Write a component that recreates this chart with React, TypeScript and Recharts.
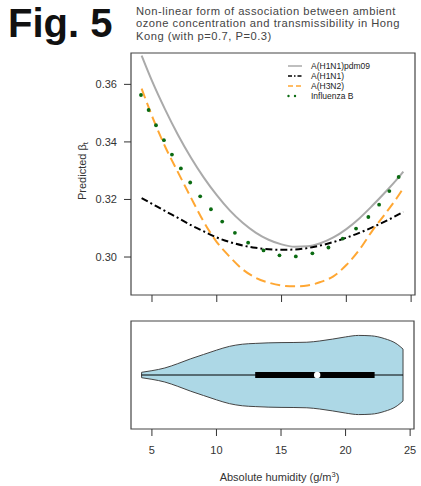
import {
  ComposedChart,
  Line,
  Scatter,
  Area,
  XAxis,
  YAxis,
  ReferenceArea,
  Legend,
} from "recharts";

// humidity grid used for the three fitted curves (g/m3)
const humidityGrid = [4.2, 5, 6, 7, 8, 9, 10, 11, 12, 13, 14, 15, 16, 17, 18, 19, 20, 21, 22, 23, 24, 24.4];
const pdm09Values = [0.37, 0.3612, 0.3514, 0.3425, 0.3346, 0.3276, 0.3215, 0.3162, 0.3119, 0.3085, 0.306, 0.3044, 0.3036, 0.3037, 0.3048, 0.3068, 0.3097, 0.3134, 0.3178, 0.3225, 0.3275, 0.3297];
const h1n1Values = [0.3205, 0.3185, 0.316, 0.3136, 0.3111, 0.3089, 0.3068, 0.3052, 0.304, 0.3032, 0.3027, 0.3025, 0.3026, 0.3031, 0.304, 0.3052, 0.3067, 0.3084, 0.3103, 0.3124, 0.3147, 0.3157];
const h3n2Values = [0.3585, 0.349, 0.3385, 0.3295, 0.3207, 0.3122, 0.3052, 0.3001, 0.2957, 0.2928, 0.2911, 0.2901, 0.2898, 0.2901, 0.2913, 0.2933, 0.2972, 0.3025, 0.3091, 0.315, 0.3212, 0.324];

// influenza B is drawn as dots
const fluBHumidity = [4.15, 4.74, 5.31, 5.92, 6.54, 7.23, 7.95, 8.72, 9.55, 10.42, 11.4, 12.42, 13.61, 14.84, 16.1, 17.38, 18.62, 19.72, 20.75, 21.7, 22.53, 23.32, 24.04];
const fluBValues = [0.3563, 0.3511, 0.3458, 0.3406, 0.3356, 0.3308, 0.3259, 0.3211, 0.3166, 0.3123, 0.3084, 0.305, 0.3023, 0.3006, 0.3002, 0.3013, 0.3033, 0.3064, 0.3099, 0.3139, 0.3182, 0.3229, 0.3278];

const seriesNames = ["A(H1N1)pdm09", "A(H1N1)", "A(H3N2)", "Influenza B"];

const subtitleLines = [
  "Non-linear form of association between ambient",
  "ozone concentration and transmissibility in Hong",
  "Kong (with p=0.7, P=0.3)",
];

// violin of humidity distribution
const violinHumidity = [4.2, 5, 6, 7, 8, 9, 10, 11, 12, 13, 14, 15, 16, 17, 18, 19, 20, 21, 22, 23, 24, 24.45];
const violinHalfWidth = [0.05, 0.08, 0.13, 0.21, 0.3, 0.38, 0.46, 0.53, 0.57, 0.585, 0.595, 0.6, 0.602, 0.607, 0.63, 0.665, 0.705, 0.733, 0.725, 0.675, 0.57, 0.48];
const humidityRange = [4.2, 24.45];
const boxQuartiles = [13.0, 22.25];
const boxMedian = 17.8;

const xTicks = [5, 10, 15, 20, 25];
const yTicks = [0.3, 0.32, 0.34, 0.36];
const xDomain = [3.38, 25.3];
const yDomain = [0.2868, 0.3709];

const font = "'Liberation Sans', Arial, sans-serif";

const curveData = humidityGrid.map((h, i) => ({
  h,
  pdm09: pdm09Values[i],
  h1n1: h1n1Values[i],
  h3n2: h3n2Values[i],
}));
const fluBData = fluBHumidity.map((h, i) => ({ h, v: fluBValues[i] }));
const violinData = violinHumidity.map((h, i) => ({ h, band: [-violinHalfWidth[i], violinHalfWidth[i]] }));
const whiskerData = humidityRange.map((h) => ({ h, v: 0 }));
const boxData = boxQuartiles.map((h) => ({ h, v: 0 }));
const rightEdge = [
  { h: humidityRange[1], v: -violinHalfWidth[violinHalfWidth.length - 1] },
  { h: humidityRange[1], v: violinHalfWidth[violinHalfWidth.length - 1] },
];
const leftEdge = [
  { h: humidityRange[0], v: -violinHalfWidth[0] },
  { h: humidityRange[0], v: violinHalfWidth[0] },
];

const legendSymbol = (i: number) => {
  if (i === 0) return <line x1={1} y1={5} x2={15} y2={5} stroke="#aaa" strokeWidth={1.5} />;
  if (i === 1) return <line x1={1} y1={5} x2={15} y2={5} stroke="#000" strokeWidth={1.5} strokeDasharray="4 2 1.5 2" />;
  if (i === 2) return <line x1={1} y1={5} x2={15} y2={5} stroke="#ffa733" strokeWidth={1.5} strokeDasharray="5 3" />;
  return (
    <g fill="#0b6b12">
      <circle cx={1.5} cy={5} r={1.2} />
      <circle cx={8} cy={5} r={1.2} />
    </g>
  );
};

const LegendBox = () => (
  <div style={{ fontFamily: font, fontSize: 8.5, color: "#222" }}>
    {seriesNames.map((name, i) => (
      <div key={name} style={{ display: "flex", alignItems: "center", height: 10 }}>
        <svg width={24} height={10}>{legendSymbol(i)}</svg>
        <span>{name}</span>
      </div>
    ))}
  </div>
);

const YLabel = (props: any) => {
  const vb = props.viewBox;
  const cx = vb.x + 11;
  const cy = vb.y + vb.height / 2 - 3;
  return (
    <text
      x={cx}
      y={cy}
      transform={`rotate(-90 ${cx} ${cy})`}
      textAnchor="middle"
      dominantBaseline="central"
      fontSize={11}
      fill="#333"
    >
      Predicted β<tspan fontSize={8} dy={3}>t</tspan>
    </text>
  );
};

const XLabel = (props: any) => {
  const vb = props.viewBox;
  return (
    <text x={vb.x + vb.width / 2 + 7} y={vb.y + 52} textAnchor="middle" fontSize={11} fill="#333">
      Absolute humidity (g/m<tspan fontSize={7.5} dy={-4}>3</tspan>
      <tspan dy={4}>)</tspan>
    </text>
  );
};

const tickStyle = { fontSize: 11, fill: "#333" };

export default function App() {
  return (
    <div style={{ position: "absolute", left: 0, top: 0, width: 421, height: 486, background: "#fff", fontFamily: font }}>
      <div style={{ position: "absolute", left: 8, top: 3, fontSize: 40, lineHeight: "40px", fontWeight: 700, color: "#111" }}>
        Fig. 5
      </div>
      {subtitleLines.map((line, i) => (
        <div
          key={line}
          style={{
            position: "absolute",
            left: 136,
            top: 4.7 + i * 12.5,
            fontSize: 11.2,
            lineHeight: "12.5px",
            letterSpacing: 0.5,
            color: "#444",
            whiteSpace: "nowrap",
          }}
        >
          {line}
        </div>
      ))}

      <div style={{ position: "absolute", left: 0, top: 0 }}>
        <ComposedChart width={421} height={310} data={curveData} margin={{ top: 53, right: 6, left: 71, bottom: 0 }}>
          <XAxis
            dataKey="h"
            type="number"
            domain={xDomain}
            ticks={xTicks}
            allowDataOverflow
            axisLine={false}
            tickSize={7}
            tickLine={{ stroke: "#333" }}
            tickFormatter={() => ""}
            height={15}
          />
          <YAxis
            type="number"
            domain={yDomain}
            ticks={yTicks}
            allowDataOverflow
            axisLine={false}
            tickSize={7}
            tickMargin={7}
            tickLine={{ stroke: "#333" }}
            tick={tickStyle}
            tickFormatter={(v: number) => v.toFixed(2)}
            width={60}
            label={YLabel}
          />
          <ReferenceArea x1={xDomain[0]} x2={xDomain[1]} y1={yDomain[0]} y2={yDomain[1]} fill="none" stroke="#444" strokeWidth={1.2} />
          <Line dataKey="pdm09" type="monotone" stroke="#aaa" strokeWidth={2} dot={false} isAnimationActive={false} />
          <Line dataKey="h1n1" type="monotone" stroke="#000" strokeWidth={2} strokeDasharray="7 3 2 3" dot={false} isAnimationActive={false} />
          <Line dataKey="h3n2" type="monotone" stroke="#ffa733" strokeWidth={2} strokeDasharray="10 5" dot={false} isAnimationActive={false} />
          <Scatter
            data={fluBData}
            dataKey="v"
            isAnimationActive={false}
            shape={(p: any) => <circle cx={p.cx} cy={p.cy} r={1.9} fill="#0b6b12" />}
          />
          <Legend
            layout="horizontal"
            align="center"
            verticalAlign="middle"
            width={130}
            wrapperStyle={{ left: 287, top: 60.7 }}
            content={<LegendBox />}
          />
        </ComposedChart>
      </div>

      <div style={{ position: "absolute", left: 0, top: 310 }}>
        <ComposedChart width={421} height={176} data={violinData} margin={{ top: 11, right: 7, left: 131, bottom: 0 }}>
          <XAxis
            dataKey="h"
            type="number"
            domain={xDomain}
            ticks={xTicks}
            allowDataOverflow
            axisLine={false}
            tickSize={7}
            tickMargin={10}
            tickLine={{ stroke: "#333" }}
            tick={tickStyle}
            height={57}
            label={XLabel}
          />
          <YAxis type="number" domain={[-1, 1]} hide allowDataOverflow />
          <ReferenceArea x1={xDomain[0]} x2={xDomain[1]} y1={-1} y2={1} fill="none" stroke="#444" strokeWidth={1.2} />
          <Area dataKey="band" type="monotone" fill="#add8e6" fillOpacity={1} stroke="#444" strokeWidth={1} isAnimationActive={false} />
          <Line data={rightEdge} dataKey="v" type="linear" stroke="#444" strokeWidth={1} dot={false} isAnimationActive={false} />
          <Line data={leftEdge} dataKey="v" type="linear" stroke="#444" strokeWidth={1} dot={false} isAnimationActive={false} />
          <Line data={whiskerData} dataKey="v" type="linear" stroke="#000" strokeWidth={1} dot={false} isAnimationActive={false} />
          <Line data={boxData} dataKey="v" type="linear" stroke="#000" strokeWidth={6} dot={false} isAnimationActive={false} />
          <Scatter
            data={[{ h: boxMedian, v: 0 }]}
            dataKey="v"
            isAnimationActive={false}
            shape={(p: any) => <circle cx={p.cx} cy={p.cy} r={3.2} fill="#fff" />}
          />
        </ComposedChart>
      </div>
    </div>
  );
}
